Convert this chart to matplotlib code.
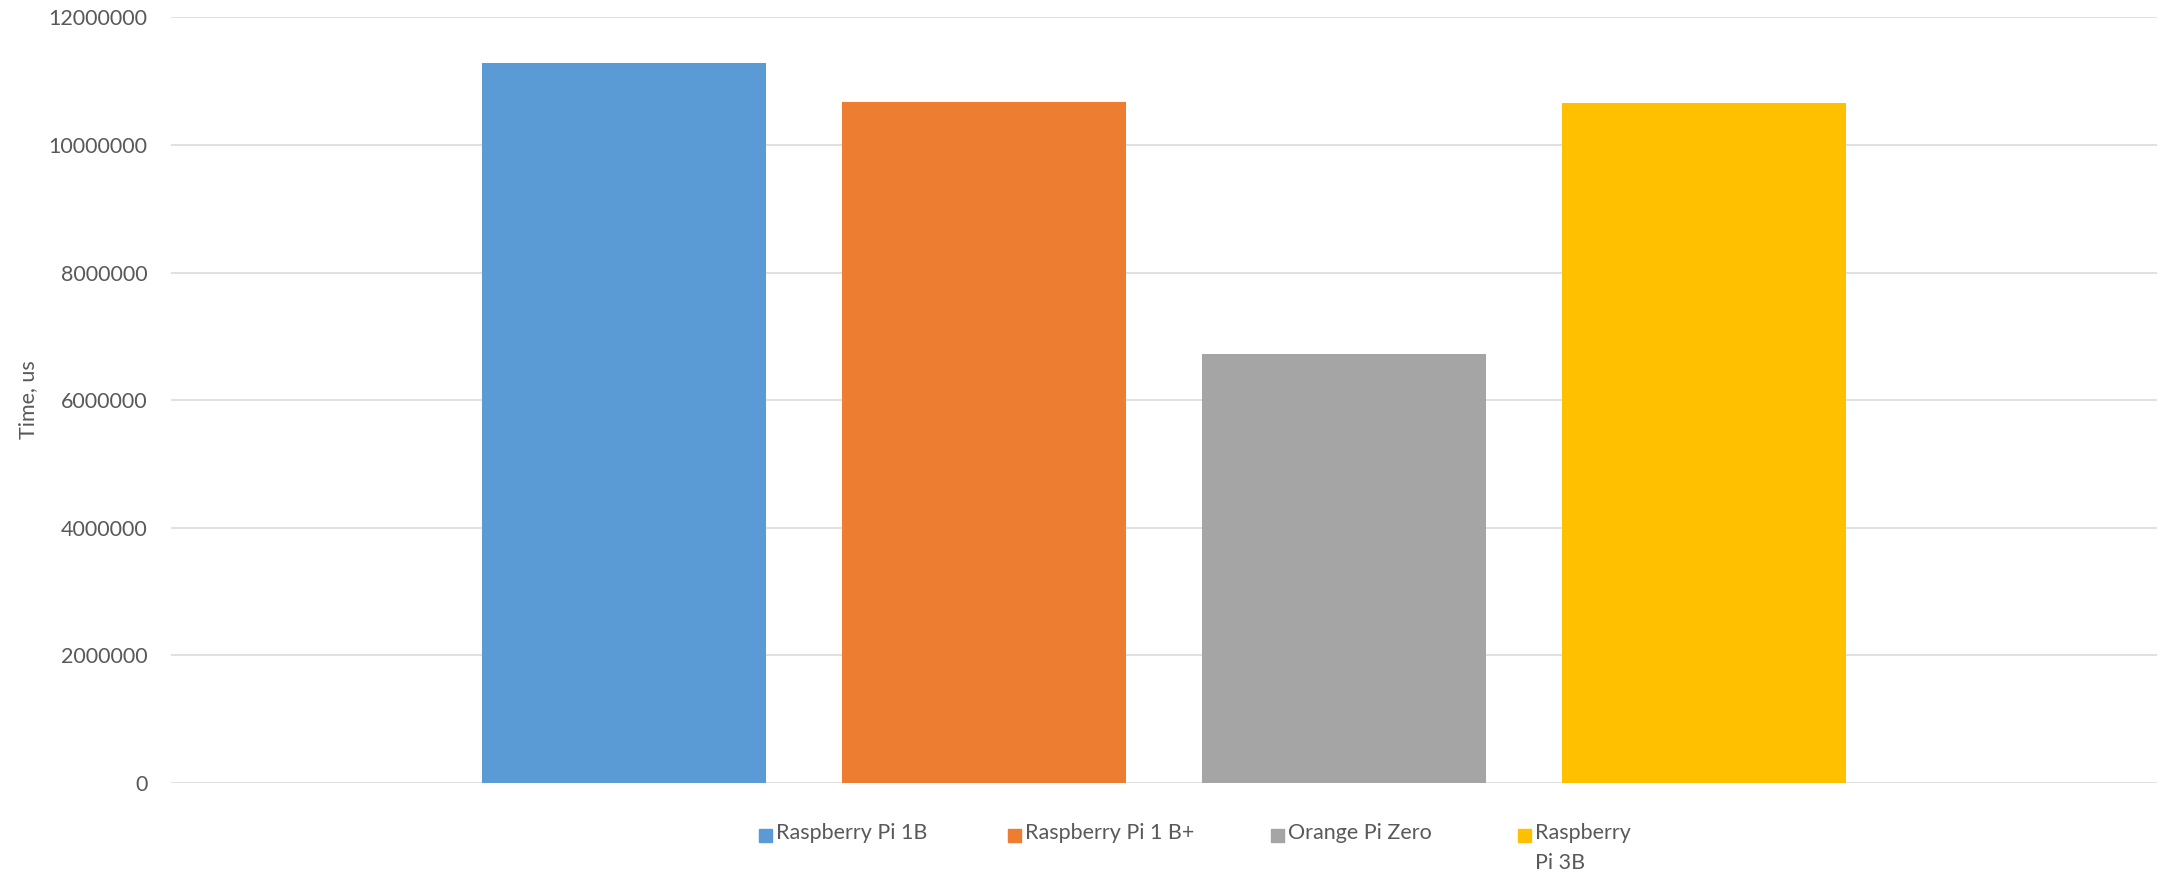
import matplotlib
matplotlib.use("Agg")
import matplotlib.pyplot as plt
from matplotlib.patches import Rectangle

labels = ["Raspberry Pi 1B", "Raspberry Pi 1 B+", "Orange Pi Zero", "Raspberry\nPi 3B"]
values = [11290000, 10675000, 6723000, 10660000]
colors = ["#5B9BD5", "#ED7D31", "#A5A5A5", "#FFC000"]
yticks = [0, 2000000, 4000000, 6000000, 8000000, 10000000, 12000000]

W, H = 2168, 875
fig = plt.figure(figsize=(W / 100, H / 100), dpi=100)
plt.rcParams['font.family'] = ['Lato', 'DejaVu Sans']
txt = "#595959"

ax = fig.add_axes([171 / W, 92.3 / H, (2157 - 171) / W, (782.7 - 17.5) / H])
x = list(range(len(values)))
ax.bar(x, values, width=284 / 360, color=colors, zorder=2)
ax.set_xlim(-1.258, 4.258)
ax.set_ylim(0, 12000000)
ax.set_yticks(yticks)
ax.set_yticklabels([str(v) for v in yticks], fontsize=15.5, color=txt)
ax.set_xticks([])
ax.tick_params(axis='y', length=0, pad=17)
ax.grid(axis='y', color="#D9D9D9", linewidth=1.1, zorder=0)
for s in ax.spines.values():
    s.set_visible(False)
ax.set_ylabel("Time, us", fontsize=15.5, color=txt)
ax.yaxis.set_label_coords((38 - 171) / (2157 - 171), 0.5)

# legend (Excel-style, square aligned with first line)
leg_x = [759, 1008, 1271, 1518]
sq = 13
y_line1 = 835
for lx, lab, c in zip(leg_x, labels, colors):
    fig.patches.append(Rectangle((lx / W, (H - y_line1 - sq / 2) / H), sq / W, sq / H,
                                 transform=fig.transFigure, color=c))
    fig.text((lx + sq + 4) / W, (H - y_line1 + 12) / H, lab, fontsize=15.5, color=txt,
             ha='left', va='top', linespacing=1.65)

fig.savefig("out.png", dpi=100, facecolor="white")
